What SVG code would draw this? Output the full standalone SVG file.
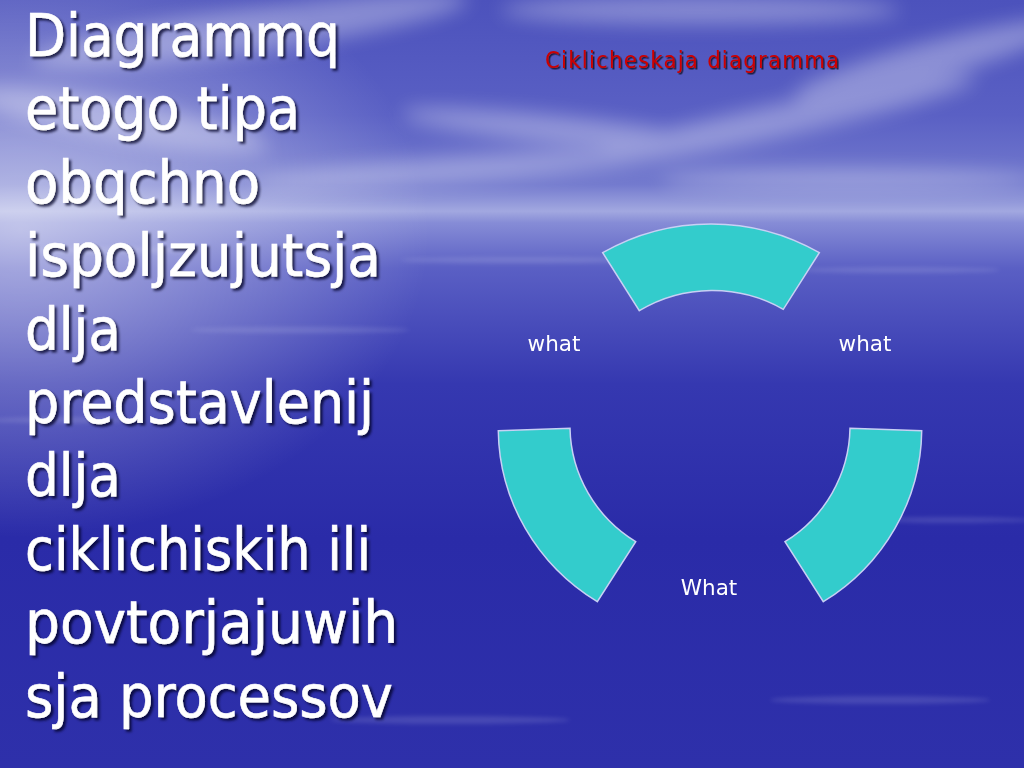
<svg xmlns="http://www.w3.org/2000/svg" width="1024" height="768" viewBox="0 0 1024 768">
<defs>
<linearGradient id="bg" x1="0" y1="0" x2="0" y2="1">
<stop offset="0" stop-color="#4c52bc"/>
<stop offset="0.15" stop-color="#5a60c4"/>
<stop offset="0.24" stop-color="#737ace"/>
<stop offset="0.275" stop-color="#a2a8e0"/>
<stop offset="0.29" stop-color="#868cd6"/>
<stop offset="0.35" stop-color="#5a5fc4"/>
<stop offset="0.5" stop-color="#3538b0"/>
<stop offset="0.7" stop-color="#2a2ba8"/>
<stop offset="1" stop-color="#2e30aa"/>
</linearGradient>
<radialGradient id="glow" cx="0.02" cy="0.3" r="0.4">
<stop offset="0" stop-color="#ffffff" stop-opacity="0.5"/>
<stop offset="1" stop-color="#ffffff" stop-opacity="0"/>
</radialGradient>
<filter id="blur" x="-50%" y="-50%" width="200%" height="200%"><feGaussianBlur stdDeviation="10"/></filter>
<filter id="blur2" x="-20%" y="-200%" width="140%" height="500%"><feGaussianBlur stdDeviation="2"/></filter>
<filter id="sh" x="-10%" y="-20%" width="120%" height="140%"><feDropShadow dx="2.5" dy="2.5" stdDeviation="1" flood-color="#000020" flood-opacity="0.75"/></filter>
<filter id="sh2" x="-10%" y="-20%" width="120%" height="140%"><feDropShadow dx="1.5" dy="1.5" stdDeviation="0.6" flood-color="#000000" flood-opacity="0.7"/></filter>
<style>
.body{font-family:"DejaVu Sans",sans-serif;font-size:58px;fill:#ffffff;stroke:#ffffff;stroke-width:0.6;}
.seg{fill:#33cccc;stroke:#c8d0f4;stroke-width:1.5;}
.lbl{font-family:"DejaVu Sans",sans-serif;font-size:21.5px;fill:#ffffff;text-anchor:middle;}
.title{font-family:"DejaVu Sans Condensed","DejaVu Sans",sans-serif;font-size:23.5px;fill:#cc0000;}
</style>
</defs>
<rect width="1024" height="768" fill="url(#bg)"/>
<rect width="1024" height="768" fill="url(#glow)"/>
<g fill="#ffffff" filter="url(#blur)" opacity="0.33">
<ellipse cx="250" cy="30" rx="220" ry="22" transform="rotate(-8 250 30)"/>
<ellipse cx="700" cy="10" rx="200" ry="14"/>
<ellipse cx="930" cy="60" rx="140" ry="18" transform="rotate(-15 930 60)"/>
<ellipse cx="780" cy="120" rx="200" ry="16" transform="rotate(-12 780 120)"/>
<ellipse cx="560" cy="130" rx="160" ry="14" transform="rotate(6 560 130)"/>
<ellipse cx="450" cy="170" rx="200" ry="12" transform="rotate(-4 450 170)"/>
<ellipse cx="850" cy="180" rx="190" ry="10"/>
<ellipse cx="120" cy="120" rx="150" ry="20" transform="rotate(10 120 120)"/>
</g>
<g fill="#ffffff" opacity="0.12" filter="url(#blur2)">
<ellipse cx="120" cy="250" rx="90" ry="3"/>
<ellipse cx="520" cy="260" rx="120" ry="3"/>
<ellipse cx="900" cy="270" rx="100" ry="3"/>
<ellipse cx="300" cy="330" rx="110" ry="3"/>
<ellipse cx="60" cy="420" rx="70" ry="3"/>
<ellipse cx="950" cy="520" rx="80" ry="3"/>
<ellipse cx="880" cy="700" rx="110" ry="4"/>
<ellipse cx="450" cy="720" rx="120" ry="4"/>
</g>
<g id="title"><text class="title" x="545" y="68" textLength="294" filter="url(#sh2)">Ciklicheskaja diagramma</text></g>
<g id="body" class="body" filter="url(#sh)">
<text x="25" y="56" textLength="315" lengthAdjust="spacingAndGlyphs">Diagrammq</text>
<text x="25" y="129" textLength="275" lengthAdjust="spacingAndGlyphs">etogo tipa</text>
<text x="25" y="203" textLength="235" lengthAdjust="spacingAndGlyphs">obqchno</text>
<text x="25" y="276" textLength="356" lengthAdjust="spacingAndGlyphs">ispoljzujutsja</text>
<text x="25" y="350" textLength="96" lengthAdjust="spacingAndGlyphs">dlja</text>
<text x="25" y="423" textLength="349" lengthAdjust="spacingAndGlyphs">predstavlenij</text>
<text x="25" y="496" textLength="96" lengthAdjust="spacingAndGlyphs">dlja</text>
<text x="25" y="570" textLength="346" lengthAdjust="spacingAndGlyphs">ciklichiskih ili</text>
<text x="25" y="643" textLength="373" lengthAdjust="spacingAndGlyphs">povtorjajuwih</text>
<text x="25" y="717" textLength="368" lengthAdjust="spacingAndGlyphs">sja processov</text>
</g>
<g id="seg-top"><path class="seg" d="M602.7,252.7 A212 205 0 0 1 819.3,252.7 L783.3,309.3 A140 137 0 0 0 639.3,310.7 Z"/></g>
<g id="seg-right"><path class="seg" d="M850,428.3 L921.7,430.7 A212 205 0 0 1 823.3,601.7 L785,541.7 A140 137 0 0 0 850,428.3 Z"/></g>
<g id="seg-left"><path class="seg" d="M498.3,430.7 L570,428.3 A140 137 0 0 0 635.7,541.7 L597.3,601.7 A212 205 0 0 1 498.3,430.7 Z"/></g>
<g id="connectors"></g>
<g id="labels">
<text class="lbl" x="554" y="351">what</text>
<text class="lbl" x="865" y="351">what</text>
<text class="lbl" x="709" y="595">What</text>
</g>
</svg>
